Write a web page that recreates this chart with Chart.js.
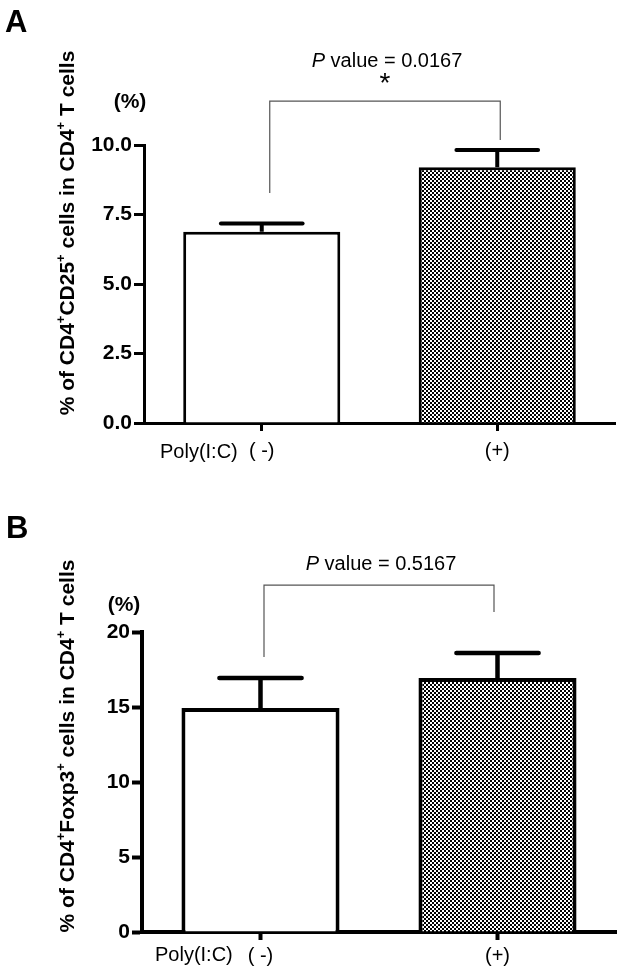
<!DOCTYPE html>
<html>
<head>
<meta charset="utf-8">
<script src="https://cdn.jsdelivr.net/npm/chart.js@4"></script>
<style>
  body { margin: 0; background: #fff; }
  .panel { position: absolute; left: 0; width: 624px; }
  #pa { top: 0; height: 470px; }
  #pb { top: 470px; height: 505px; }
</style>
</head>
<body>
<div class="panel" id="pa"><canvas id="chartA"></canvas></div>
<div class="panel" id="pb"><canvas id="chartB"></canvas></div>
<script>
const groups = ['( -)', '(+)'];
const cd25Mean = [6.88, 9.2];
const cd25Err = [0.3, 0.62];
const foxp3Mean = [14.93, 16.93];
const foxp3Err = [2.0, 1.67];
const ticksA = [0, 2.5, 5, 7.5, 10];
const ticksB = [0, 5, 10, 15, 20];
const pValues = ['0.0167', '0.5167'];

const FAM = '"Liberation Sans", Arial, sans-serif';
Chart.defaults.font.family = FAM;
Chart.defaults.color = '#000';

// 2px checkerboard fill for the (+) bar
function checker() {
  const c = document.createElement('canvas');
  c.width = 4; c.height = 4;
  const g = c.getContext('2d');
  g.fillStyle = '#fff'; g.fillRect(0, 0, 4, 4);
  g.fillStyle = '#000'; g.fillRect(0, 0, 2, 2); g.fillRect(2, 2, 2, 2);
  return g.createPattern(c, 'repeat');
}

// text with superscript pieces, centred on x, baseline y
function drawRich(ctx, parts, x, y, size) {
  const f = sup => 'bold ' + (sup ? Math.round(size * 0.62) : size) + 'px ' + FAM;
  let w = 0;
  parts.forEach(p => { ctx.font = f(p[1]); w += ctx.measureText(p[0]).width; });
  let cx = x - w / 2;
  ctx.textAlign = 'left';
  ctx.textBaseline = 'alphabetic';
  parts.forEach(p => {
    ctx.font = f(p[1]);
    ctx.fillText(p[0], cx, p[1] ? y - size * 0.42 : y);
    cx += ctx.measureText(p[0]).width;
  });
}

const annot = {
  id: 'annot',
  afterDatasetsDraw(chart, args, o) {
    const ctx = chart.ctx, ys = chart.scales.y;
    const bars = chart.getDatasetMeta(0).data;
    ctx.save();
    ctx.strokeStyle = '#000';
    ctx.lineWidth = o.errWidth;
    bars.forEach((bar, i) => {
      const top = ys.getPixelForValue(o.mean[i] + o.err[i]);
      const half = bar.width * 0.26;
      ctx.lineCap = 'butt';
      ctx.beginPath(); ctx.moveTo(bar.x, bar.y); ctx.lineTo(bar.x, top); ctx.stroke();
      ctx.lineCap = 'round';
      ctx.beginPath(); ctx.moveTo(bar.x - half, top); ctx.lineTo(bar.x + half, top); ctx.stroke();
    });

    // significance bracket
    const b = o.bracket;
    const x1 = bars[0].x + b.dx1, x2 = bars[1].x + b.dx2;
    const by = ys.getPixelForValue(b.top);
    ctx.strokeStyle = '#555';
    ctx.lineWidth = 1.2;
    ctx.lineCap = 'butt';
    ctx.beginPath();
    ctx.moveTo(x1, ys.getPixelForValue(b.left));
    ctx.lineTo(x1, by);
    ctx.lineTo(x2, by);
    ctx.lineTo(x2, ys.getPixelForValue(b.right));
    ctx.stroke();

    // P value text
    const mid = (x1 + x2) / 2 + 2;
    ctx.fillStyle = '#000';
    ctx.textBaseline = 'alphabetic';
    ctx.textAlign = 'left';
    const rest = ' value = ' + o.p;
    ctx.font = 'italic 20px ' + FAM;
    const wp = ctx.measureText('P').width;
    ctx.font = '20px ' + FAM;
    const wr = ctx.measureText(rest).width;
    const sx = mid - (wp + wr) / 2;
    ctx.font = 'italic 20px ' + FAM;
    ctx.fillText('P', sx, by - b.textGap);
    ctx.font = '20px ' + FAM;
    ctx.fillText(rest, sx + wp, by - b.textGap);
    if (o.star) {
      ctx.font = '28px ' + FAM;
      ctx.textAlign = 'center';
      ctx.fillText('*', mid - 2, by - 9);
    }
    ctx.restore();
  },
  afterDraw(chart, args, o) {
    const ctx = chart.ctx;
    ctx.save();
    ctx.fillStyle = '#000';
    ctx.textBaseline = 'alphabetic';
    ctx.textAlign = 'left';
    ctx.font = 'bold 31px ' + FAM;
    ctx.fillText(o.letter, o.letterX, o.letterY);
    ctx.textAlign = 'center';
    ctx.font = 'bold 21px ' + FAM;
    ctx.fillText('(%)', o.unitX, o.unitY);
    ctx.textAlign = 'left';
    ctx.font = '20px ' + FAM;
    ctx.fillText('Poly(I:C)', o.polyX, o.polyY);
    ctx.translate(o.titleX, o.titleY);
    ctx.rotate(-Math.PI / 2);
    drawRich(ctx, o.title, 0, 0, 21);
    ctx.restore();
  }
};

function makeChart(id, c) {
  return new Chart(document.getElementById(id), {
    type: 'bar',
    data: {
      labels: groups,
      datasets: [{
        data: c.mean,
        backgroundColor: ['#fff', checker()],
        borderColor: '#000',
        borderWidth: c.lw,
        borderSkipped: 'bottom',
        barPercentage: 0.667,
        categoryPercentage: 1
      }]
    },
    options: {
      responsive: true,
      maintainAspectRatio: false,
      animation: false,
      layout: { padding: { top: c.top, right: c.right, left: 0, bottom: 0 } },
      plugins: {
        legend: { display: false },
        tooltip: { enabled: false },
        annot: c.annot
      },
      scales: {
        x: {
          grid: { offset: false, drawOnChartArea: false, tickLength: 8, tickWidth: c.lw, tickColor: '#000' },
          border: { color: '#000', width: c.lw },
          ticks: { font: { size: 20 }, padding: c.xpad },
          afterFit: s => { s.height = c.xh; }
        },
        y: {
          min: 0,
          max: c.ticks[c.ticks.length - 1],
          afterBuildTicks: s => { s.ticks = c.ticks.map(v => ({ value: v })); },
          grid: { drawOnChartArea: false, tickLength: 10, tickWidth: c.lw, tickColor: '#000' },
          border: { color: '#000', width: c.lw },
          ticks: { font: { size: 21, weight: 'bold' }, padding: 2, callback: c.fmt },
          afterFit: s => { s.width = c.yw; }
        }
      }
    },
    plugins: [annot]
  });
}

makeChart('chartA', {
  mean: cd25Mean, ticks: ticksA, lw: 3,
  top: 145, right: 9, xh: 47, yw: 144, xpad: 8,
  fmt: v => v.toFixed(1),
  annot: {
    mean: cd25Mean, err: cd25Err, errWidth: 4, p: pValues[0], star: true,
    bracket: { dx1: 8, dx2: 3, top: 11.58, left: 8.27, right: 10.18, textGap: 34 },
    letter: 'A', letterX: 5, letterY: 32,
    unitX: 130, unitY: 108,
    polyX: 160, polyY: 458,
    titleX: 74, titleY: 233,
    title: [['% of CD4', 0], ['+', 1], ['CD25', 0], ['+', 1], [' cells in CD4', 0], ['+', 1], [' T cells', 0]]
  }
});

makeChart('chartB', {
  mean: foxp3Mean, ticks: ticksB, lw: 4,
  top: 162, right: 8, xh: 43, yw: 142, xpad: 4,
  fmt: v => String(v),
  annot: {
    mean: foxp3Mean, err: foxp3Err, errWidth: 4.5, p: pValues[1], star: false,
    bracket: { dx1: 3.5, dx2: -3.5, top: 23.13, left: 18.33, right: 21.33, textGap: 15 },
    letter: 'B', letterX: 6, letterY: 68,
    unitX: 124, unitY: 141,
    polyX: 155, polyY: 491,
    titleX: 74, titleY: 276,
    title: [['% of CD4', 0], ['+', 1], ['Foxp3', 0], ['+', 1], [' cells in CD4', 0], ['+', 1], [' T cells', 0]]
  }
});
</script>
</body>
</html>
